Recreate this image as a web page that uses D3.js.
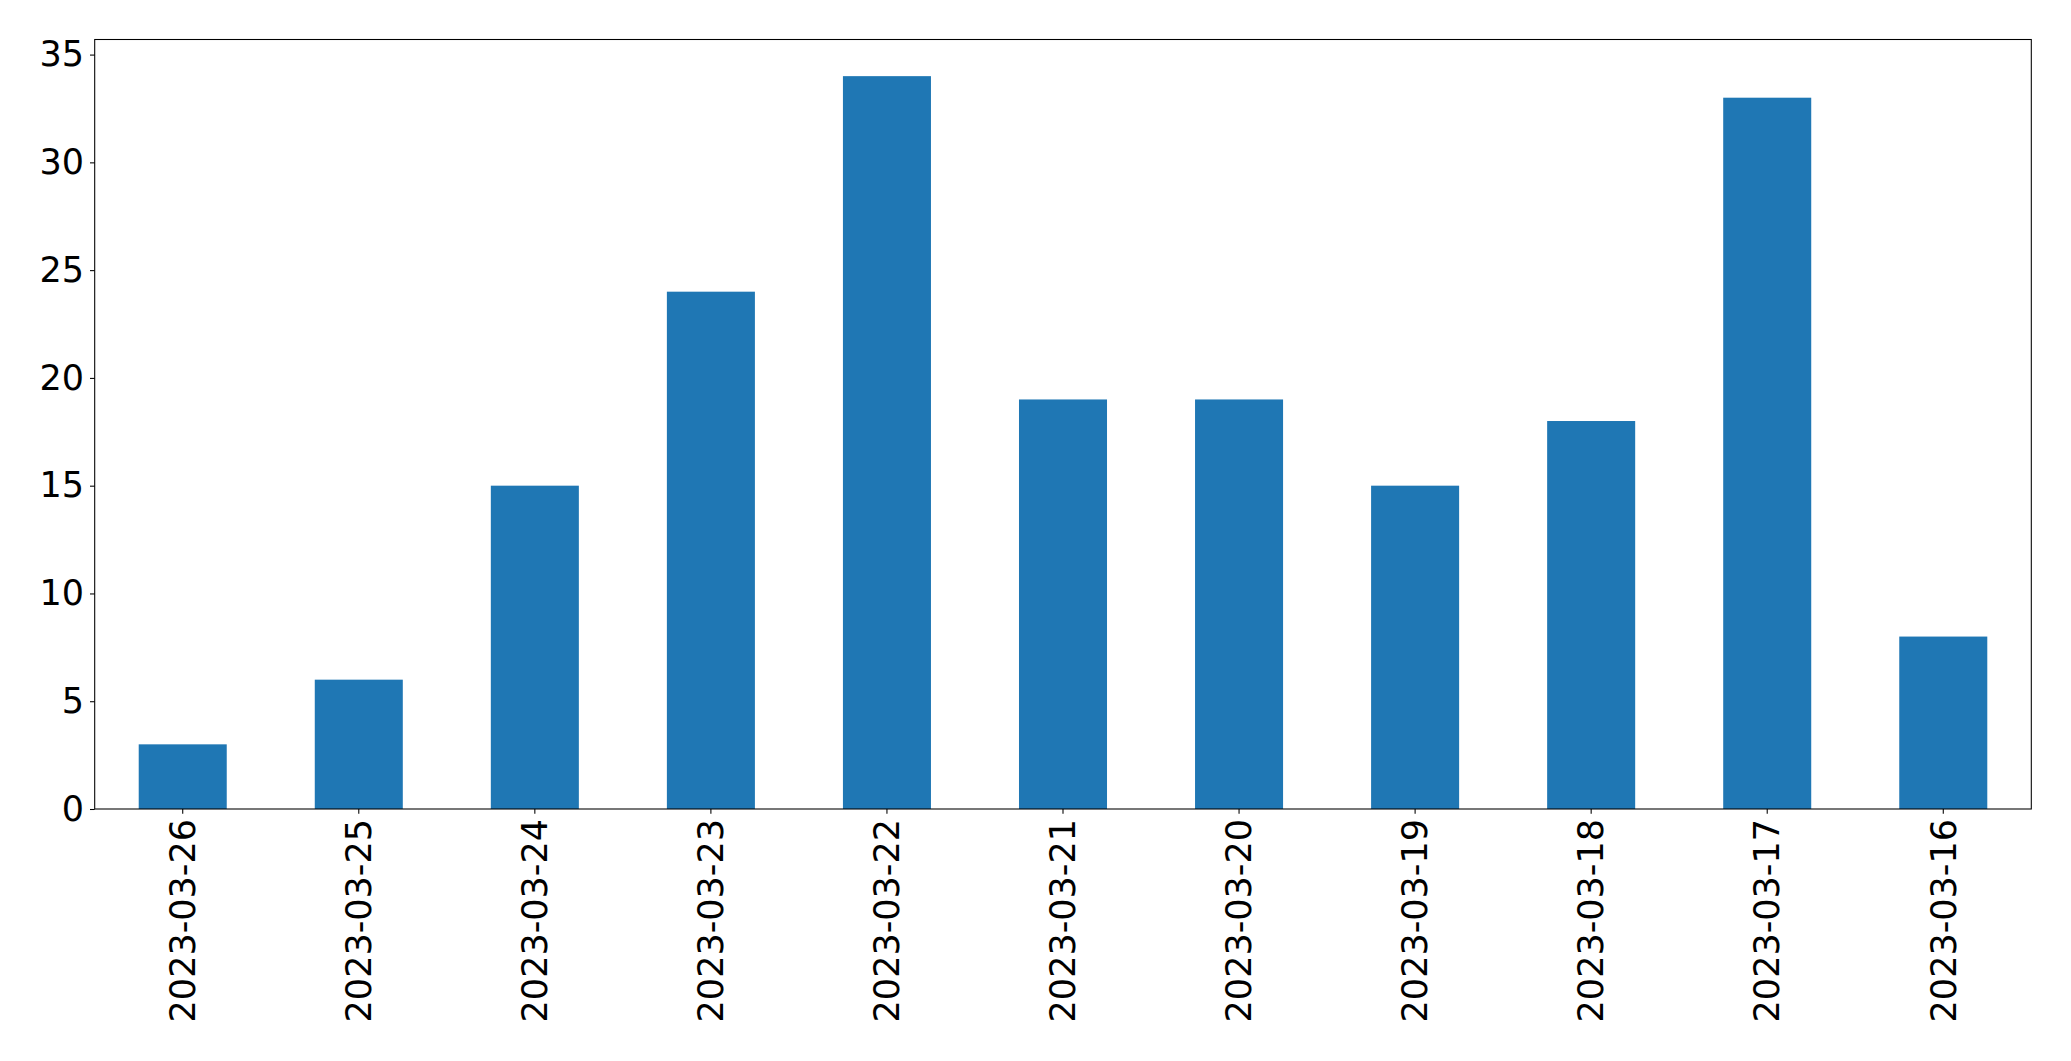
<!DOCTYPE html>
<html>
<head>
<meta charset="utf-8">
<script src="https://cdn.jsdelivr.net/npm/d3@7"></script>
<style>
html,body{margin:0;padding:0;background:#fff;}
svg text{font-family:"DejaVu Sans",sans-serif;}
</style>
</head>
<body>
<svg id="chart" width="2071" height="1061"></svg>
<script>
const categories = ["2023-03-26","2023-03-25","2023-03-24","2023-03-23","2023-03-22","2023-03-21","2023-03-20","2023-03-19","2023-03-18","2023-03-17","2023-03-16"];
const values = [3, 6, 15, 24, 34, 19, 19, 15, 18, 33, 8];
const yTicks = [0, 5, 10, 15, 20, 25, 30, 35];

const margin = {left: 94.7, right: 2071 - 2031.3, top: 39.5, bottom: 1061 - 809};
const W = 2071, H = 1061;
const svg = d3.select("#chart");
const x = d3.scaleBand().domain(categories).range([margin.left, W - margin.right]).paddingInner(0.5).paddingOuter(0.25);
const y = d3.scaleLinear().domain([0, 34 * 1.05]).range([H - margin.bottom, margin.top]);

svg.append("g").selectAll("rect").data(values).join("rect")
  .attr("x", (d, i) => x(categories[i]))
  .attr("width", x.bandwidth())
  .attr("y", d => y(d))
  .attr("height", d => y(0) - y(d))
  .attr("fill", "#1f77b4");

// frame
svg.append("rect")
  .attr("x", margin.left).attr("y", margin.top)
  .attr("width", W - margin.right - margin.left)
  .attr("height", H - margin.bottom - margin.top)
  .attr("fill", "none").attr("stroke", "#000").attr("stroke-width", 1.07);

const yAxis = d3.axisLeft(y).tickValues(yTicks).tickSize(4.7).tickPadding(6).tickFormat(d3.format("d"));
const gy = svg.append("g").attr("transform", `translate(${margin.left},0)`).call(yAxis);
gy.select(".domain").remove();
gy.selectAll("line").attr("stroke", "#000").attr("stroke-width", 1.07);
gy.selectAll("text").attr("font-size", 35).attr("fill", "#000").attr("font-family", "DejaVu Sans");

const xAxis = d3.axisBottom(x).tickSize(4.7).tickPadding(0);
const gx = svg.append("g").attr("transform", `translate(0,${H - margin.bottom})`).call(xAxis);
gx.select(".domain").remove();
gx.selectAll("line").attr("stroke", "#000").attr("stroke-width", 1.07);
gx.selectAll("text")
  .attr("font-size", 35).attr("fill", "#000").attr("font-family", "DejaVu Sans")
  .attr("transform", "rotate(-90)")
  .attr("x", -10).attr("y", 0).attr("dy", "0.35em")
  .attr("text-anchor", "end");
</script>
</body>
</html>
